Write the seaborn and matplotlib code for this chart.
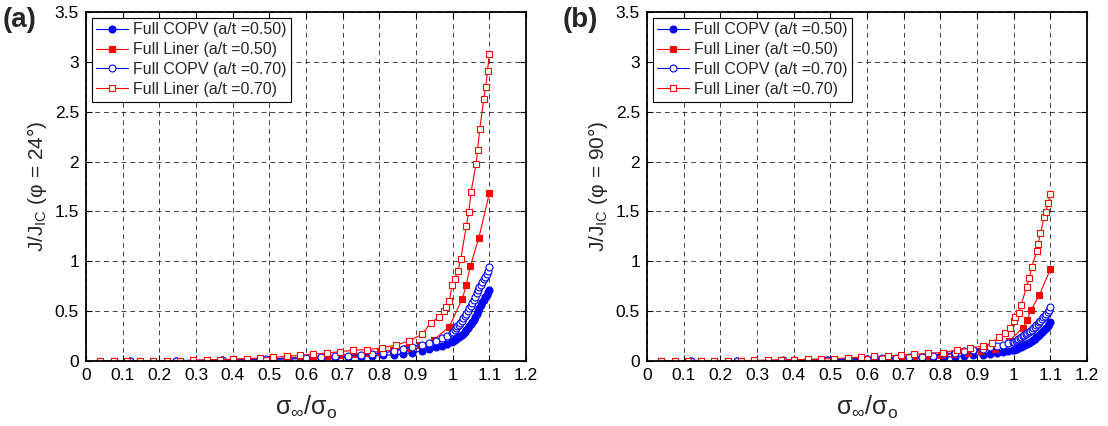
import matplotlib
matplotlib.use("Agg")
import matplotlib.pyplot as plt
import seaborn as sns

sns.set_style("ticks")
plt.rcParams['font.family'] = ['Liberation Sans', 'DejaVu Sans']
plt.rcParams['mathtext.fontset'] = 'custom'
plt.rcParams['mathtext.rm'] = 'Liberation Sans'
plt.rcParams['mathtext.it'] = 'Liberation Sans:italic'

# ---------------- data ----------------
liner70_a_x = [0.038, 0.075, 0.111, 0.147, 0.184, 0.220, 0.256, 0.293, 0.329, 0.366,
               0.402, 0.438, 0.475, 0.511, 0.547, 0.584, 0.620, 0.656, 0.693, 0.729,
               0.765, 0.806, 0.845, 0.881, 0.917, 0.940, 0.962, 0.975, 0.982, 0.991,
               0.998, 1.005, 1.014, 1.022, 1.037, 1.044, 1.050, 1.064, 1.068, 1.074,
               1.085, 1.090, 1.095, 1.100]
liner70_a_y = [0.0, 0.0, 0.0, 0.0, 0.0, 0.0, 0.003, 0.007, 0.010, 0.013,
               0.020, 0.024, 0.030, 0.037, 0.047, 0.057, 0.070, 0.080, 0.094, 0.107,
               0.115, 0.130, 0.160, 0.200, 0.270, 0.380, 0.440, 0.500, 0.545, 0.600,
               0.760, 0.820, 0.900, 1.020, 1.350, 1.490, 1.690, 1.980, 2.120, 2.330,
               2.630, 2.750, 2.910, 3.080]

liner50_a_x = [0.038, 0.075, 0.111, 0.147, 0.184, 0.220, 0.256, 0.293, 0.329, 0.366,
               0.402, 0.438, 0.475, 0.511, 0.547, 0.584, 0.620, 0.656, 0.693, 0.729,
               0.765, 0.802, 0.838, 0.875, 0.911, 0.948, 0.991, 1.026, 1.037, 1.048,
               1.071, 1.100]
liner50_a_y = [0.0, 0.0, 0.0, 0.0, 0.0, 0.0, 0.002, 0.004, 0.006, 0.008,
               0.011, 0.014, 0.018, 0.023, 0.029, 0.036, 0.043, 0.051, 0.060, 0.070,
               0.080, 0.095, 0.110, 0.130, 0.160, 0.210, 0.345, 0.620, 0.760, 0.950,
               1.230, 1.680]

copv_x = [0.120, 0.245, 0.370, 0.490, 0.550, 0.600, 0.640, 0.680, 0.715, 0.750,
          0.780, 0.810, 0.840, 0.865, 0.890, 0.915, 0.935, 0.955, 0.970, 0.985,
          0.997, 1.001, 1.005, 1.009, 1.013, 1.017, 1.021, 1.025, 1.029, 1.033,
          1.037, 1.041, 1.045, 1.049, 1.053, 1.057, 1.061, 1.065, 1.069, 1.073,
          1.077, 1.081, 1.085, 1.089, 1.093, 1.097, 1.100]

copv50_a_y = [0.0, 0.003, 0.008, 0.015, 0.020, 0.025, 0.030, 0.035, 0.040, 0.045,
              0.050, 0.057, 0.063, 0.070, 0.085, 0.100, 0.118, 0.138, 0.155, 0.172,
              0.195, 0.200, 0.210, 0.220, 0.230, 0.240, 0.250, 0.265, 0.275, 0.290,
              0.310, 0.330, 0.350, 0.370, 0.390, 0.415, 0.445, 0.470, 0.500, 0.535,
              0.560, 0.590, 0.615, 0.640, 0.665, 0.690, 0.710]

copv70_a_y = [0.0, 0.005, 0.010, 0.020, 0.027, 0.035, 0.040, 0.047, 0.055, 0.062,
              0.070, 0.080, 0.100, 0.125, 0.145, 0.165, 0.185, 0.205, 0.230, 0.255,
              0.280, 0.290, 0.310, 0.330, 0.350, 0.365, 0.385, 0.405, 0.430, 0.450,
              0.475, 0.500, 0.530, 0.555, 0.585, 0.610, 0.645, 0.680, 0.710, 0.740,
              0.765, 0.790, 0.820, 0.845, 0.870, 0.905, 0.940]

liner70_b_x = [0.038, 0.075, 0.111, 0.147, 0.184, 0.220, 0.256, 0.293, 0.329, 0.366,
               0.402, 0.438, 0.475, 0.511, 0.547, 0.584, 0.620, 0.656, 0.693, 0.729,
               0.765, 0.806, 0.845, 0.881, 0.917, 0.940, 0.961, 0.976, 0.990, 1.000,
               1.004, 1.015, 1.020, 1.035, 1.043, 1.049, 1.063, 1.066, 1.073, 1.083,
               1.088, 1.093, 1.100]
liner70_b_y = [0.0, 0.0, 0.0, 0.0, 0.0, 0.002, 0.004, 0.006, 0.008, 0.010,
               0.013, 0.017, 0.020, 0.025, 0.030, 0.040, 0.047, 0.052, 0.057, 0.067,
               0.077, 0.085, 0.110, 0.130, 0.150, 0.180, 0.245, 0.285, 0.335, 0.405,
               0.445, 0.485, 0.560, 0.740, 0.830, 0.940, 1.100, 1.170, 1.280, 1.440,
               1.490, 1.580, 1.670]

liner50_b_x = [0.038, 0.075, 0.111, 0.147, 0.184, 0.220, 0.256, 0.293, 0.329, 0.366,
               0.402, 0.438, 0.475, 0.511, 0.547, 0.584, 0.620, 0.656, 0.693, 0.729,
               0.765, 0.802, 0.838, 0.875, 0.911, 0.948, 0.988, 1.025, 1.037, 1.047,
               1.070, 1.100]
liner50_b_y = [0.0, 0.0, 0.0, 0.0, 0.0, 0.0, 0.002, 0.003, 0.005, 0.007,
               0.009, 0.011, 0.013, 0.016, 0.020, 0.025, 0.030, 0.035, 0.040, 0.045,
               0.050, 0.060, 0.070, 0.080, 0.100, 0.125, 0.200, 0.335, 0.410, 0.510,
               0.660, 0.920]

copv50_b_y = [0.0, 0.002, 0.005, 0.010, 0.013, 0.017, 0.020, 0.024, 0.028, 0.032,
              0.036, 0.040, 0.045, 0.050, 0.058, 0.064, 0.070, 0.080, 0.090, 0.100,
              0.110, 0.115, 0.120, 0.125, 0.130, 0.136, 0.142, 0.150, 0.158, 0.166,
              0.174, 0.183, 0.193, 0.203, 0.213, 0.224, 0.236, 0.248, 0.260, 0.273,
              0.287, 0.301, 0.316, 0.332, 0.350, 0.372, 0.395]

copv70_b_y = [0.0, 0.003, 0.007, 0.013, 0.018, 0.023, 0.027, 0.032, 0.037, 0.042,
              0.055, 0.070, 0.085, 0.098, 0.110, 0.125, 0.138, 0.150, 0.163, 0.176,
              0.190, 0.195, 0.203, 0.211, 0.220, 0.229, 0.238, 0.248, 0.258, 0.268,
              0.279, 0.290, 0.302, 0.315, 0.328, 0.342, 0.357, 0.372, 0.388, 0.404,
              0.421, 0.438, 0.456, 0.474, 0.494, 0.516, 0.540]

panel_labels = ["(a)", "(b)"]
ylabels = [r"J/J$_{\mathrm{IC}}$ (φ = 24°)", r"J/J$_{\mathrm{IC}}$ (φ = 90°)"]
legend_labels = ["Full COPV (a/t =0.50)", "Full Liner (a/t =0.50)",
                 "Full COPV (a/t =0.70)", "Full Liner (a/t =0.70)"]
xticks = [0, 0.1, 0.2, 0.3, 0.4, 0.5, 0.6, 0.7, 0.8, 0.9, 1.0, 1.1, 1.2]
xticklabels = ["0", "0.1", "0.2", "0.3", "0.4", "0.5", "0.6", "0.7", "0.8", "0.9", "1", "1.1", "1.2"]
yticks = [0, 0.5, 1, 1.5, 2, 2.5, 3, 3.5]
yticklabels = ["0", "0.5", "1", "1.5", "2", "2.5", "3", "3.5"]

panels = [
    dict(c50=copv50_a_y, l50x=liner50_a_x, l50y=liner50_a_y, c70=copv70_a_y, l70x=liner70_a_x, l70y=liner70_a_y),
    dict(c50=copv50_b_y, l50x=liner50_b_x, l50y=liner50_b_y, c70=copv70_b_y, l70x=liner70_b_x, l70y=liner70_b_y),
]

fig = plt.figure(figsize=(11.08, 4.26), dpi=100)
W, H = 1108, 426
axes_px = [(86, 526), (647, 1087)]
top_px, bot_px = 12, 361

BLUE = (0, 0, 1)
RED = (1, 0, 0)
lw = 0.8
ms = 5.0

for i, p in enumerate(panels):
    l, r = axes_px[i]
    ax = fig.add_axes([l / W, 1 - bot_px / H, (r - l) / W, (bot_px - top_px) / H])
    common = dict(ax=ax, estimator=None, sort=False, linewidth=lw, markersize=ms, markeredgewidth=0.8)
    sns.lineplot(x=copv_x, y=p['c50'], color=BLUE, marker='o', markerfacecolor=BLUE,
                 markeredgecolor=BLUE, label=legend_labels[0], **common)
    sns.lineplot(x=p['l50x'], y=p['l50y'], color=RED, marker='s', markerfacecolor=RED,
                 markeredgecolor=RED, label=legend_labels[1], **common)
    sns.lineplot(x=copv_x, y=p['c70'], color=BLUE, marker='o', markerfacecolor='white',
                 markeredgecolor=BLUE, label=legend_labels[2], **common)
    sns.lineplot(x=p['l70x'], y=p['l70y'], color=RED, marker='s', markerfacecolor='white',
                 markeredgecolor=RED, label=legend_labels[3], **common)

    ax.set_xlim(0, 1.2)
    ax.set_ylim(0, 3.5)
    ax.set_xticks(xticks)
    ax.set_xticklabels(xticklabels)
    ax.set_yticks(yticks)
    ax.set_yticklabels(yticklabels)
    ax.tick_params(direction='in', length=4, width=0.8, top=True, right=True,
                   labelsize=12.5, colors='black', pad=5)
    for s in ax.spines.values():
        s.set_visible(True)
        s.set_linewidth(1.3)
        s.set_color('black')
    ax.grid(True, linestyle=(0, (5, 4)), color='black', linewidth=0.7, alpha=0.75)
    ax.set_axisbelow(True)
    ax.set_xlabel(r"$\mathrm{\sigma_{\infty}/\sigma_{o}}$", fontsize=18, labelpad=8)
    ax.set_ylabel(ylabels[i], fontsize=15, labelpad=4)

    leg = ax.legend(loc='upper left', bbox_to_anchor=(0, 1), borderaxespad=0.35,
                    fontsize=11.5, frameon=True, fancybox=False, edgecolor='black',
                    framealpha=1, numpoints=1, handlelength=2.0, handletextpad=0.3,
                    labelspacing=0.3, borderpad=0.3)
    leg.get_frame().set_linewidth(0.8)

    fig.text((3 if i == 0 else 563) / W, 1 - 20 / H, panel_labels[i], fontsize=20,
             fontweight='bold', ha='left', va='center')

fig.savefig("out.png", dpi=100)
